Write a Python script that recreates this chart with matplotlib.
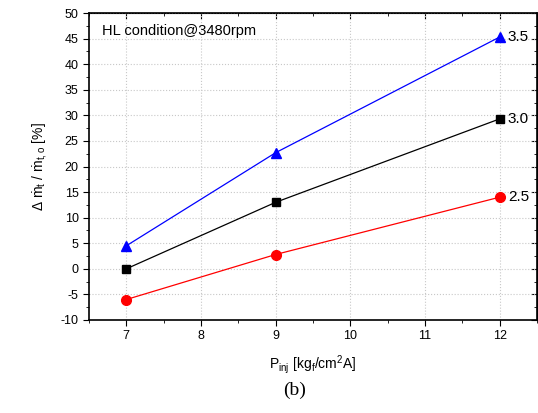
import matplotlib
matplotlib.use("Agg")
import matplotlib.pyplot as plt
from matplotlib.ticker import MultipleLocator

plt.rcParams['font.family'] = ['Liberation Sans', 'DejaVu Sans']
plt.rcParams['mathtext.fontset'] = 'custom'
plt.rcParams['mathtext.rm'] = 'Liberation Sans'
plt.rcParams['mathtext.it'] = 'Liberation Sans'
plt.rcParams['axes.unicode_minus'] = False

# datos
p_inj = [7, 9, 12]
serie_35 = [4.5, 22.7, 45.3]
serie_30 = [0.0, 13.0, 29.3]
serie_25 = [-6.0, 2.8, 14.0]
etiquetas = ["3.5", "3.0", "2.5"]

fig = plt.figure(figsize=(5.38, 4.13), dpi=100)
ax = fig.add_axes([0.1654, 0.2252, 0.8326, 0.7433])

ax.plot(p_inj, serie_35, color="blue", marker="^", ms=7, lw=0.9)
ax.plot(p_inj, serie_30, color="black", marker="s", ms=6, lw=0.9)
ax.plot(p_inj, serie_25, color="red", marker="o", ms=7, lw=0.9)

for serie, lab in zip([serie_35, serie_30, serie_25], etiquetas):
    ax.annotate(lab, (p_inj[-1], serie[-1]), xytext=(6, 0),
                textcoords="offset points", va="center", fontsize=11)

ax.set_xlim(6.5, 12.5)
ax.set_ylim(-10, 50)
ax.xaxis.set_major_locator(MultipleLocator(1))
ax.xaxis.set_minor_locator(MultipleLocator(0.5))
ax.yaxis.set_major_locator(MultipleLocator(5))
ax.yaxis.set_minor_locator(MultipleLocator(2.5))
ax.tick_params(which="both", direction="out", labelsize=9)
ax.tick_params(which="major", length=4)
ax.tick_params(which="minor", length=2.5)
ax.grid(True, which="major", ls=":", color="#c8c8c8", lw=0.8)

# ticks hacia dentro arriba y a la derecha
sec_x = ax.secondary_xaxis("top")
sec_x.xaxis.set_major_locator(MultipleLocator(1))
sec_x.xaxis.set_minor_locator(MultipleLocator(0.5))
sec_x.tick_params(which="both", direction="in", labeltop=False)
sec_x.tick_params(which="major", length=4)
sec_x.tick_params(which="minor", length=2.5)
sec_y = ax.secondary_yaxis("right")
sec_y.yaxis.set_major_locator(MultipleLocator(5))
sec_y.yaxis.set_minor_locator(MultipleLocator(2.5))
sec_y.tick_params(which="both", direction="in", labelright=False)
sec_y.tick_params(which="major", length=4)
sec_y.tick_params(which="minor", length=2.5)

for sp in ax.spines.values():
    sp.set_linewidth(1.2)

ax.text(0.03, 0.965, "HL condition@3480rpm", transform=ax.transAxes,
        ha="left", va="top", fontsize=10.5)

ax.set_xlabel(r"P$_{\mathregular{inj}}$ [kg$_{\mathregular{f}}$/cm$^{\mathregular{2}}$A]",
              fontsize=10, labelpad=8)
ax.set_ylabel("Δ ṁ$_{\\mathregular{t}}$ / ṁ$_{\\mathregular{t,o}}$ [%]", fontsize=10, labelpad=8)

fig.text(0.548, 0.055, "(b)", fontsize=14, family="Liberation Serif",
         ha="center", va="center")

fig.savefig("out.png", dpi=100)
